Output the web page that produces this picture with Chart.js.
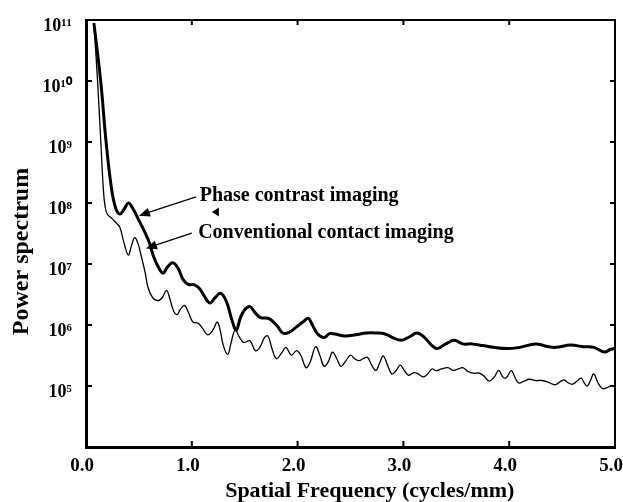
<!DOCTYPE html>
<html>
<head>
<meta charset="utf-8">
<script src="https://cdn.jsdelivr.net/npm/chart.js@4.4.1/dist/chart.umd.min.js"></script>
<style>
  body { margin: 0; background: #fff; }
  #wrap { width: 623px; height: 502px; }
</style>
</head>
<body>
<div id="wrap"><canvas id="psChart"></canvas></div>
<script>
// Phase contrast imaging (thick line)
const phaseFreq = [0.075, 0.14, 0.19, 0.24, 0.28, 0.32, 0.36, 0.40, 0.44, 0.50, 0.55, 0.60, 0.64, 0.69, 0.73, 0.77, 0.82, 0.87, 0.92, 0.97,
  1.02, 1.07, 1.12, 1.17, 1.22, 1.27, 1.31, 1.34, 1.38, 1.42, 1.46, 1.50, 1.55, 1.60, 1.65, 1.72, 1.76, 1.81, 1.86, 1.92, 1.99,
  2.05, 2.10, 2.14, 2.19, 2.25, 2.30, 2.35, 2.45, 2.55, 2.65, 2.75, 2.82, 2.90, 2.98,
  3.05, 3.13, 3.20, 3.27, 3.32, 3.40, 3.48, 3.56, 3.65, 3.75, 3.85, 3.98,
  4.10, 4.25, 4.35, 4.44, 4.58, 4.70, 4.80, 4.90, 4.96, 5.00];
const phasePower = [8.9e10, 9.5e9, 1.0e9, 1.78e8, 8.3e7, 6.6e7, 7.9e7, 1.0e8, 8.3e7, 5.2e7, 3.5e7, 2.2e7, 1.3e7, 8.5e6, 7.1e6, 8.9e6, 1.05e7, 8.5e6, 5.5e6, 4.6e6,
  4.6e6, 4.0e6, 2.95e6, 2.3e6, 2.8e6, 3.3e6, 2.8e6, 2.1e6, 1.2e6, 8.3e5, 1.32e6, 1.78e6, 2.0e6, 1.58e6, 1.32e6, 1.29e6, 1.17e6, 9.5e5, 7.4e5, 7.6e5, 9.3e5,
  1.12e6, 1.29e6, 1.0e6, 7.1e5, 6.2e5, 7.2e5, 7.1e5, 6.6e5, 6.9e5, 7.4e5, 7.4e5, 7.2e5, 6.2e5, 5.6e5,
  6.3e5, 7.4e5, 6.2e5, 4.6e5, 4.1e5, 4.9e5, 5.6e5, 4.9e5, 4.9e5, 4.6e5, 4.3e5, 4.1e5,
  4.3e5, 4.9e5, 4.5e5, 4.3e5, 4.7e5, 4.4e5, 4.3e5, 3.6e5, 4.0e5, 4.1e5];

// Conventional contact imaging (thin line)
const convFreq = [0.075, 0.11, 0.14, 0.165, 0.18, 0.20, 0.25, 0.29, 0.32, 0.36, 0.40, 0.43, 0.46, 0.49, 0.52, 0.56, 0.585, 0.63, 0.68, 0.72,
  0.76, 0.79, 0.83, 0.86, 0.89, 0.93, 0.97, 1.01, 1.06, 1.10, 1.15, 1.20, 1.24, 1.27, 1.30, 1.34, 1.37, 1.41, 1.45, 1.49,
  1.55, 1.60, 1.64, 1.69, 1.72, 1.76, 1.80, 1.85, 1.89, 1.94, 1.99, 2.03, 2.08, 2.12, 2.17, 2.21, 2.25, 2.29, 2.33, 2.37,
  2.41, 2.45, 2.50, 2.54, 2.58, 2.62, 2.66, 2.70, 2.74, 2.78, 2.81, 2.85, 2.89, 2.93, 2.97, 3.01, 3.05, 3.10, 3.14, 3.19,
  3.23, 3.27, 3.31, 3.36, 3.42, 3.47, 3.52, 3.56, 3.61, 3.66, 3.72, 3.77, 3.81, 3.86, 3.90, 3.94, 3.97, 4.02, 4.06, 4.09,
  4.14, 4.19, 4.25, 4.31, 4.36, 4.41, 4.44, 4.49, 4.52, 4.56, 4.60, 4.64, 4.68, 4.71, 4.74, 4.77, 4.80, 4.84, 4.88, 4.92, 4.96, 5.00];
const convPower = [8.9e10, 9.5e9, 1.0e9, 1.58e8, 8.9e7, 6.6e7, 5.5e7, 4.6e7, 4.0e7, 2.2e7, 1.4e7, 2.0e7, 2.7e7, 2.2e7, 1.4e7, 7.1e6, 4.2e6, 2.8e6, 2.5e6, 2.8e6,
  3.7e6, 2.8e6, 1.66e6, 1.48e6, 1.78e6, 2.1e6, 1.58e6, 1.12e6, 1.07e6, 8.9e5, 6.9e5, 8.3e5, 1.12e6, 7.9e5, 4.5e5, 3.3e5, 5.0e5, 8.3e5, 6.3e5, 5.2e5,
  5.5e5, 3.8e5, 4.2e5, 6.3e5, 6.6e5, 4.0e5, 2.8e5, 3.5e5, 4.3e5, 3.2e5, 3.8e5, 3.2e5, 2.0e5, 2.5e5, 4.4e5, 3.2e5, 2.1e5, 2.5e5, 3.6e5, 2.8e5,
  2.1e5, 2.5e5, 3.2e5, 2.8e5, 2.6e5, 2.8e5, 2.95e5, 2.2e5, 1.8e5, 2.5e5, 3.1e5, 2.2e5, 1.58e5, 1.78e5, 2.2e5, 1.78e5, 1.5e5, 1.66e5, 1.58e5, 1.41e5,
  1.58e5, 1.9e5, 1.78e5, 1.9e5, 2.0e5, 1.8e5, 1.9e5, 2.0e5, 1.74e5, 1.62e5, 1.62e5, 1.41e5, 1.2e5, 1.41e5, 1.8e5, 1.41e5, 1.35e5, 1.78e5, 1.32e5, 1.12e5,
  1.2e5, 1.29e5, 1.23e5, 1.23e5, 1.17e5, 1.07e5, 1.05e5, 1.2e5, 1.26e5, 1.12e5, 1.07e5, 1.2e5, 1.35e5, 1.12e5, 1.0e5, 1.26e5, 1.58e5, 1.12e5, 9.1e4, 9.3e4, 1.0e5, 1.0e5];

// Axis ticks
const xTicks = [0, 1, 2, 3, 4, 5];
const yTicks = [1e4, 1e5, 1e6, 1e7, 1e8, 1e9, 1e10, 1e11];
const yTickLabels = ['', '10\u2075', '10\u2076', '10\u2077', '10\u2078', '10\u2079', '10\u00B9\u2070', '10\u00B9\u00B9'];

// Annotation anchors in data units (text start, arrow tail, arrow head)
const annotations = [
  { text: 'Phase contrast imaging', tx: 1.075, ty: 1.3e8, ax: 1.04, ay: 1.26e8, hx: 0.50, hy: 6.2e7 },
  { text: 'Conventional contact imaging', tx: 1.06, ty: 3.2e7, ax: 1.0, ay: 3.2e7, hx: 0.566, hy: 1.8e7 }
];
const strayMarker = { x: 1.19, y: 7.1e7 };

const serif = '"Liberation Serif", "Times New Roman", serif';

function toPoints(xs, ys) {
    return xs.map((x, i) => ({ x: x, y: ys[i] }));
}

// Draws the box frame, inward tick marks and the text annotations with arrows
const framePlugin = {
    id: 'frame',
    afterDatasetsDraw(chart) {
        const ctx = chart.ctx;
        const area = chart.chartArea;
        const xs = chart.scales.x;
        const ys = chart.scales.y;
        ctx.save();
        ctx.strokeStyle = '#000';
        ctx.lineWidth = 2;
        ctx.beginPath();
        ctx.moveTo(area.left, area.top);
        ctx.lineTo(area.right, area.top);
        ctx.lineTo(area.right, area.bottom);
        ctx.stroke();

        xTicks.forEach(v => {
            const px = xs.getPixelForValue(v);
            ctx.beginPath();
            ctx.moveTo(px, area.bottom);
            ctx.lineTo(px, area.bottom - 6);
            ctx.moveTo(px, area.top);
            ctx.lineTo(px, area.top + 5);
            ctx.stroke();
        });
        yTicks.forEach(v => {
            const py = ys.getPixelForValue(v);
            ctx.beginPath();
            ctx.moveTo(area.left, py);
            ctx.lineTo(area.left + 6, py);
            ctx.moveTo(area.right, py);
            ctx.lineTo(area.right - 5, py);
            ctx.stroke();
        });

        // annotations
        ctx.fillStyle = '#000';
        ctx.font = 'bold 20px ' + serif;
        ctx.textBaseline = 'middle';
        ctx.textAlign = 'left';
        annotations.forEach(a => {
            ctx.fillText(a.text, xs.getPixelForValue(a.tx), ys.getPixelForValue(a.ty));
            const x1 = xs.getPixelForValue(a.ax), y1 = ys.getPixelForValue(a.ay);
            const x2 = xs.getPixelForValue(a.hx), y2 = ys.getPixelForValue(a.hy);
            const ang = Math.atan2(y2 - y1, x2 - x1);
            ctx.lineWidth = 1.3;
            ctx.beginPath();
            ctx.moveTo(x1, y1);
            ctx.lineTo(x2 - 7 * Math.cos(ang), y2 - 7 * Math.sin(ang));
            ctx.stroke();
            ctx.beginPath();
            ctx.moveTo(x2, y2);
            ctx.lineTo(x2 - 11 * Math.cos(ang) + 4.5 * Math.sin(ang), y2 - 11 * Math.sin(ang) - 4.5 * Math.cos(ang));
            ctx.lineTo(x2 - 11 * Math.cos(ang) - 4.5 * Math.sin(ang), y2 - 11 * Math.sin(ang) + 4.5 * Math.cos(ang));
            ctx.closePath();
            ctx.fill();
        });
        // small stray arrowhead under the first label
        const mx = xs.getPixelForValue(strayMarker.x), my = ys.getPixelForValue(strayMarker.y);
        ctx.beginPath();
        ctx.moveTo(mx, my);
        ctx.lineTo(mx + 7, my - 4.5);
        ctx.lineTo(mx + 7, my + 4.5);
        ctx.closePath();
        ctx.fill();
        ctx.restore();
    }
};

const ctx = document.getElementById('psChart').getContext('2d');
new Chart(ctx, {
    type: 'line',
    data: {
        datasets: [{
            label: 'Phase contrast imaging',
            data: toPoints(phaseFreq, phasePower),
            borderColor: '#000',
            borderWidth: 3,
            pointRadius: 0,
            tension: 0.4,
            fill: false
        }, {
            label: 'Conventional contact imaging',
            data: toPoints(convFreq, convPower),
            borderColor: '#000',
            borderWidth: 1.3,
            pointRadius: 0,
            tension: 0.4,
            fill: false
        }]
    },
    options: {
        responsive: true,
        maintainAspectRatio: false,
        animation: false,
        layout: { padding: { top: 20, right: 8, left: 0, bottom: 0 } },
        plugins: {
            legend: { display: false },
            tooltip: { enabled: false }
        },
        scales: {
            x: {
                type: 'linear',
                min: 0,
                max: 5,
                afterBuildTicks: scale => { scale.ticks = xTicks.map(v => ({ value: v })); },
                afterFit: scale => { scale.height = 55; scale.paddingLeft = 0; scale.paddingRight = 0; },
                ticks: {
                    color: '#000',
                    padding: 8,
                    maxRotation: 0,
                    labelOffset: -4,
                    font: { family: serif, size: 19, weight: 'bold' },
                    callback: v => v.toFixed(1)
                },
                grid: { drawOnChartArea: false, drawTicks: false },
                border: { color: '#000', width: 3 },
                title: {
                    display: true,
                    text: '       Spatial Frequency (cycles/mm)',
                    color: '#000',
                    font: { family: serif, size: 22, weight: 'bold' },
                    padding: { top: 0, bottom: -3 }
                }
            },
            y: {
                type: 'logarithmic',
                min: 1e4,
                max: 1e11,
                afterBuildTicks: scale => { scale.ticks = yTicks.map(v => ({ value: v })); },
                afterFit: scale => { scale.width = 86; scale.paddingTop = 0; scale.paddingBottom = 0; },
                ticks: {
                    color: '#000',
                    padding: 14,
                    labelOffset: 6,
                    font: { family: serif, size: 18, weight: 'bold' },
                    callback: v => yTickLabels[yTicks.indexOf(v)]
                },
                grid: { drawOnChartArea: false, drawTicks: false },
                border: { color: '#000', width: 3 },
                title: {
                    display: true,
                    text: 'Power spectrum      ',
                    color: '#000',
                    font: { family: serif, size: 24, weight: 'bold' },
                    padding: { top: 7, bottom: 0 }
                }
            }
        }
    },
    plugins: [framePlugin]
});
</script>
</body>
</html>
